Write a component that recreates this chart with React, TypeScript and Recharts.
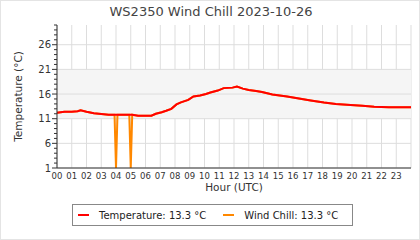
import React from 'react';
import { LineChart, Line, XAxis, YAxis, CartesianGrid, ReferenceArea, ReferenceLine } from 'recharts';

const hours = [0, 0.5, 1, 1.4, 1.6, 2, 2.5, 3, 3.5, 3.9, 4, 4.1, 4.5, 4.9, 5, 5.1, 5.5, 6, 6.4, 6.7, 7.1, 7.4, 7.75, 8.1, 8.4, 8.9, 9.25, 9.7, 10.1, 10.4, 10.9, 11.3, 11.9, 12.2, 12.6, 13, 13.5, 13.9, 14.6, 15.6, 16.4, 17.2, 18.1, 18.9, 19.9, 20.7, 21.5, 22.5, 23.5, 24];
const temperature = [12.2, 12.4, 12.4, 12.5, 12.7, 12.4, 12.1, 11.95, 11.8, 11.8, 11.8, 11.8, 11.8, 11.8, 11.8, 11.8, 11.6, 11.6, 11.6, 12.0, 12.3, 12.6, 13.0, 13.9, 14.3, 14.8, 15.5, 15.7, 16.0, 16.3, 16.7, 17.2, 17.3, 17.5, 17.1, 16.8, 16.6, 16.4, 15.9, 15.5, 15.1, 14.7, 14.3, 14.0, 13.8, 13.6, 13.4, 13.3, 13.3, 13.3];
const windChill = [12.2, 12.4, 12.4, 12.5, 12.7, 12.4, 12.1, 11.95, 11.8, 11.8, 1, 11.8, 11.8, 11.8, 1, 11.8, 11.6, 11.6, 11.6, 12.0, 12.3, 12.6, 13.0, 13.9, 14.3, 14.8, 15.5, 15.7, 16.0, 16.3, 16.7, 17.2, 17.3, 17.5, 17.1, 16.8, 16.6, 16.4, 15.9, 15.5, 15.1, 14.7, 14.3, 14.0, 13.8, 13.6, 13.4, 13.3, 13.3, 13.3];
const xTicks = [0, 1, 2, 3, 4, 5, 6, 7, 8, 9, 10, 11, 12, 13, 14, 15, 16, 17, 18, 19, 20, 21, 22, 23];
const yMajorTicks = [1, 6, 11, 16, 21, 26];
const yAllTicks = [1, 2, 3, 4, 5, 6, 7, 8, 9, 10, 11, 12, 13, 14, 15, 16, 17, 18, 19, 20, 21, 22, 23, 24, 25, 26, 27, 28, 29, 30];
const title = 'WS2350 Wind Chill 2023-10-26';
const legendTemp = 'Temperature: 13.3 °C';
const legendChill = 'Wind Chill: 13.3 °C';

const data = hours.map((h, i) => ({ h, t: temperature[i], w: windChill[i] }));

const FONT = '"DejaVu Sans", sans-serif';

const YTick = (props: any) => {
  const { x, y, payload } = props;
  const major = yMajorTicks.includes(payload.value);
  return (
    <g>
      <line x1={x - (major ? 5 : 3)} x2={x} y1={y} y2={y} stroke="#333" strokeWidth={1} />
      {major && (
        <text x={x - 6} y={y} dy="0.35em" textAnchor="end" fontSize={10} fill="#333" fontFamily={FONT}>
          {payload.value}
        </text>
      )}
    </g>
  );
};

const XTick = (props: any) => {
  const { x, y, payload } = props;
  return (
    <text x={x} y={y} dy="0.8em" textAnchor="middle" fontSize={8.5} fill="#333" fontFamily={FONT}>
      {String(payload.value).padStart(2, '0')}
    </text>
  );
};

export default function App() {
  return (
    <div style={{ position: 'absolute', left: 0, top: 0, width: 420, height: 240, background: '#fff', boxSizing: 'border-box', border: '1px solid #e4e4e4', fontFamily: FONT }}>
      <div style={{ position: 'absolute', left: 0, top: 3, width: 420, textAlign: 'center', fontSize: 13, color: '#444', fontFamily: FONT }}>{title}</div>
      <div style={{ position: 'absolute', left: -1, top: -1 }}>
        <LineChart width={420} height={240} data={data} margin={{ top: 25, right: 9, left: 0, bottom: 42 }}>
          <ReferenceArea y1={11} y2={21} fill="#f5f5f5" fillOpacity={1} stroke="none" ifOverflow="hidden" />
          <CartesianGrid horizontal={false} stroke="#dddddd" />
          {yMajorTicks.map((v) => (
            <ReferenceLine key={v} y={v} stroke="#dddddd" />
          ))}
          <XAxis
            dataKey="h"
            type="number"
            domain={[0, 24]}
            ticks={xTicks}
            interval={0}
            tickLine={false}
            tickSize={0}
            tickMargin={4}
            axisLine={{ stroke: '#333' }}
            height={30}
            tick={<XTick />}
            label={{
              content: (p: any) => {
                const vb = p.viewBox;
                return (
                  <text x={vb.x + vb.width / 2} y={191} textAnchor="middle" fontSize={10.5} fill="#333" fontFamily={FONT}>
                    Hour (UTC)
                  </text>
                );
              },
            }}
          />
          <YAxis
            type="number"
            domain={[1, 30]}
            ticks={yAllTicks}
            interval={0}
            width={57}
            tickLine={false}
            tickSize={0}
            tickMargin={0}
            axisLine={{ stroke: '#333' }}
            tick={<YTick />}
            allowDataOverflow
            label={{
              content: (p: any) => {
                const vb = p.viewBox;
                const cy = vb.y + vb.height / 2;
                return (
                  <text x={18} y={cy} transform={`rotate(-90, 18, ${cy})`} textAnchor="middle" dy="0.35em" fontSize={10.5} fill="#333" fontFamily={FONT}>
                    Temperature (°C)
                  </text>
                );
              },
            }}
          />
          <Line dataKey="w" type="linear" stroke="#ff8800" strokeWidth={2} dot={false} isAnimationActive={false} />
          <Line dataKey="t" type="linear" stroke="#ff0000" strokeWidth={2} dot={false} isAnimationActive={false} />
        </LineChart>
      </div>
      <div style={{ position: 'absolute', left: 71, top: 203, width: 279, height: 20, border: '1px solid #888', display: 'flex', alignItems: 'center', fontSize: 10, color: '#222', fontFamily: FONT }}>
        <span style={{ display: 'inline-block', width: 11, height: 2.5, background: '#ff0000', marginLeft: 5, marginRight: 10 }} />
        <span>{legendTemp}</span>
        <span style={{ display: 'inline-block', width: 11, height: 2.5, background: '#ff8800', marginLeft: 17, marginRight: 10 }} />
        <span>{legendChill}</span>
      </div>
    </div>
  );
}
